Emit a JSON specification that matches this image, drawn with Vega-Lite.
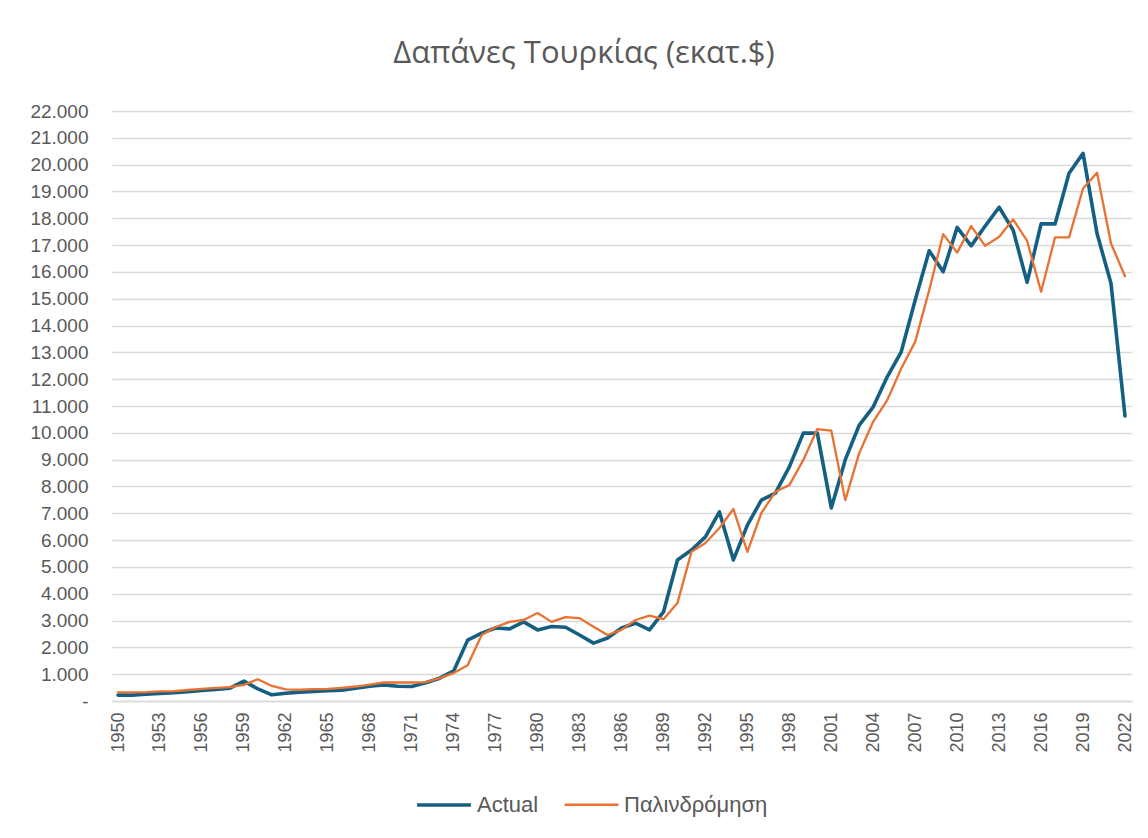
{
  "$schema": "https://vega.github.io/schema/vega-lite/v6.json",
  "width": 1020,
  "height": 590,
  "autosize": {"type": "none"},
  "padding": {"left": 112, "top": 111, "right": 16, "bottom": 137},
  "background": "white",
  "title": {
    "text": "Δαπάνες Τουρκίας (εκατ.$)",
    "font": "Open Sans",
    "fontSize": 31,
    "fontWeight": "normal",
    "color": "#595959",
    "anchor": "middle",
    "frame": "group",
    "dx": -38,
    "baseline": "alphabetic",
    "offset": 8
  },
  "data": {
    "values": [
      {"Year": 1950, "Actual": 220, "Παλινδρόμηση": 320},
      {"Year": 1951, "Actual": 220, "Παλινδρόμηση": 320},
      {"Year": 1952, "Actual": 250, "Παλινδρόμηση": 330},
      {"Year": 1953, "Actual": 280, "Παλινδρόμηση": 360},
      {"Year": 1954, "Actual": 310, "Παλινδρόμηση": 370},
      {"Year": 1955, "Actual": 350, "Παλινδρόμηση": 410},
      {"Year": 1956, "Actual": 390, "Παλινδρόμηση": 450},
      {"Year": 1957, "Actual": 430, "Παλινδρόμηση": 490},
      {"Year": 1958, "Actual": 480, "Παλινδρόμηση": 520},
      {"Year": 1959, "Actual": 740, "Παλινδρόμηση": 600},
      {"Year": 1960, "Actual": 450, "Παλινδρόμηση": 810},
      {"Year": 1961, "Actual": 230, "Παλινδρόμηση": 560},
      {"Year": 1962, "Actual": 290, "Παλινδρόμηση": 430},
      {"Year": 1963, "Actual": 330, "Παλινδρόμηση": 420},
      {"Year": 1964, "Actual": 360, "Παλινδρόμηση": 440},
      {"Year": 1965, "Actual": 380, "Παλινδρόμηση": 450},
      {"Year": 1966, "Actual": 400, "Παλινδρόμηση": 490},
      {"Year": 1967, "Actual": 480, "Παλινδρόμηση": 540},
      {"Year": 1968, "Actual": 550, "Παλινδρόμηση": 610},
      {"Year": 1969, "Actual": 600, "Παλινδρόμηση": 690},
      {"Year": 1970, "Actual": 550, "Παλινδρόμηση": 690},
      {"Year": 1971, "Actual": 540, "Παλινδρόμηση": 690},
      {"Year": 1972, "Actual": 680, "Παλινδρόμηση": 700},
      {"Year": 1973, "Actual": 850, "Παλινδρόμηση": 850},
      {"Year": 1974, "Actual": 1120, "Παλινδρόμηση": 1040},
      {"Year": 1975, "Actual": 2270, "Παλινδρόμηση": 1330},
      {"Year": 1976, "Actual": 2530, "Παλινδρόμηση": 2460},
      {"Year": 1977, "Actual": 2720, "Παλινδρόμηση": 2760},
      {"Year": 1978, "Actual": 2690, "Παλινδρόμηση": 2950},
      {"Year": 1979, "Actual": 2950, "Παλινδρόμηση": 3020},
      {"Year": 1980, "Actual": 2650, "Παλινδρόμηση": 3280},
      {"Year": 1981, "Actual": 2780, "Παλινδρόμηση": 2950},
      {"Year": 1982, "Actual": 2750, "Παλινδρόμηση": 3130},
      {"Year": 1983, "Actual": 2460, "Παλινδρόμηση": 3090},
      {"Year": 1984, "Actual": 2160, "Παλινδρόμηση": 2770},
      {"Year": 1985, "Actual": 2350, "Παλινδρόμηση": 2460},
      {"Year": 1986, "Actual": 2720, "Παλινδρόμηση": 2650},
      {"Year": 1987, "Actual": 2900, "Παλινδρόμηση": 3020},
      {"Year": 1988, "Actual": 2650, "Παλινδρόμηση": 3180},
      {"Year": 1989, "Actual": 3320, "Παλινδρόμηση": 3050},
      {"Year": 1990, "Actual": 5260, "Παλινδρόμηση": 3650},
      {"Year": 1991, "Actual": 5630, "Παλινδρόμηση": 5560},
      {"Year": 1992, "Actual": 6120, "Παλινδρόμηση": 5890},
      {"Year": 1993, "Actual": 7050, "Παλινδρόμηση": 6450},
      {"Year": 1994, "Actual": 5260, "Παλινδρόμηση": 7160},
      {"Year": 1995, "Actual": 6560, "Παλινδρόμηση": 5560},
      {"Year": 1996, "Actual": 7490, "Παλινδρόμηση": 7010},
      {"Year": 1997, "Actual": 7750, "Παλινδρόμηση": 7800},
      {"Year": 1998, "Actual": 8730, "Παλινδρόμηση": 8050},
      {"Year": 1999, "Actual": 9990, "Παλινδρόμηση": 8990},
      {"Year": 2000, "Actual": 9990, "Παλινδρόμηση": 10140},
      {"Year": 2001, "Actual": 7200, "Παλινδρόμηση": 10080},
      {"Year": 2002, "Actual": 9000, "Παλινδρόμηση": 7490},
      {"Year": 2003, "Actual": 10290, "Παλινδρόμηση": 9250},
      {"Year": 2004, "Actual": 10970, "Παλινδρόμηση": 10420},
      {"Year": 2005, "Actual": 12090, "Παλινδρόμηση": 11220},
      {"Year": 2006, "Actual": 13020, "Παλινδρόμηση": 12400},
      {"Year": 2007, "Actual": 14950, "Παλινδρόμηση": 13400},
      {"Year": 2008, "Actual": 16790, "Παλινδρόμηση": 15320},
      {"Year": 2009, "Actual": 16010, "Παλινδρόμηση": 17410},
      {"Year": 2010, "Actual": 17660, "Παλινδρόμηση": 16720},
      {"Year": 2011, "Actual": 16970, "Παλινδρόμηση": 17710},
      {"Year": 2012, "Actual": 17710, "Παλινδρόμηση": 16970},
      {"Year": 2013, "Actual": 18410, "Παλινδρόμηση": 17310},
      {"Year": 2014, "Actual": 17560, "Παλινδρόμηση": 17960},
      {"Year": 2015, "Actual": 15610, "Παλινδρόμηση": 17160},
      {"Year": 2016, "Actual": 17790, "Παλινδρόμηση": 15260},
      {"Year": 2017, "Actual": 17790, "Παλινδρόμηση": 17290},
      {"Year": 2018, "Actual": 19680, "Παλινδρόμηση": 17290},
      {"Year": 2019, "Actual": 20420, "Παλινδρόμηση": 19110},
      {"Year": 2020, "Actual": 17430, "Παλινδρόμηση": 19700},
      {"Year": 2021, "Actual": 15570, "Παλινδρόμηση": 17060},
      {"Year": 2022, "Actual": 10630, "Παλινδρόμηση": 15840}
    ]
  },
  "transform": [
    {"fold": ["Actual", "Παλινδρόμηση"], "as": ["Series", "Value"]}
  ],
  "mark": {"type": "line", "strokeCap": "round", "strokeJoin": "round"},
  "encoding": {
    "x": {
      "field": "Year",
      "type": "quantitative",
      "scale": {"domain": [1949.57, 2022.5], "nice": false, "zero": false},
      "axis": {
        "title": null,
        "values": [1950, 1953, 1956, 1959, 1962, 1965, 1968, 1971, 1974, 1977, 1980, 1983, 1986, 1989, 1992, 1995, 1998, 2001, 2004, 2007, 2010, 2013, 2016, 2019, 2022],
        "format": "d",
        "labelAngle": 270,
        "labelFont": "Liberation Sans",
        "labelFontSize": 18,
        "labelColor": "#595959",
        "labelPadding": 11,
        "ticks": false,
        "tickSize": 0,
        "grid": false,
        "domain": true,
        "domainColor": "#d9d9d9",
        "domainWidth": 1.3,
        "labelOverlap": false,
        "labelFlush": false
      }
    },
    "y": {
      "field": "Value",
      "type": "quantitative",
      "scale": {"domain": [0, 22000], "nice": false},
      "axis": {
        "title": null,
        "values": [0, 1000, 2000, 3000, 4000, 5000, 6000, 7000, 8000, 9000, 10000, 11000, 12000, 13000, 14000, 15000, 16000, 17000, 18000, 19000, 20000, 21000, 22000],
        "labelExpr": "datum.value === 0 ? '-' : replace(format(datum.value, ','), ',', '.')",
        "labelFont": "Liberation Sans",
        "labelFontSize": 19,
        "labelColor": "#595959",
        "labelPadding": 24,
        "ticks": false,
        "tickSize": 0,
        "domain": false,
        "grid": true,
        "gridColor": "#d9d9d9",
        "gridWidth": 1.3,
        "labelOverlap": false
      }
    },
    "color": {
      "field": "Series",
      "type": "nominal",
      "scale": {"domain": ["Actual", "Παλινδρόμηση"], "range": ["#156082", "#E97132"]},
      "legend": {
        "title": null,
        "orient": "none",
        "legendX": 303,
        "legendY": 665,
        "direction": "horizontal",
        "symbolType": "stroke",
        "symbolSize": 2900,
        "labelFont": "Liberation Sans",
        "labelFontSize": 22,
        "labelColor": "#595959",
        "labelOffset": 4,
        "columnPadding": 20
      }
    },
    "strokeWidth": {
      "field": "Series",
      "type": "nominal",
      "scale": {"domain": ["Actual", "Παλινδρόμηση"], "range": [3.6, 2.3]},
      "legend": null
    }
  },
  "config": {
    "view": {"stroke": null}
  }
}
